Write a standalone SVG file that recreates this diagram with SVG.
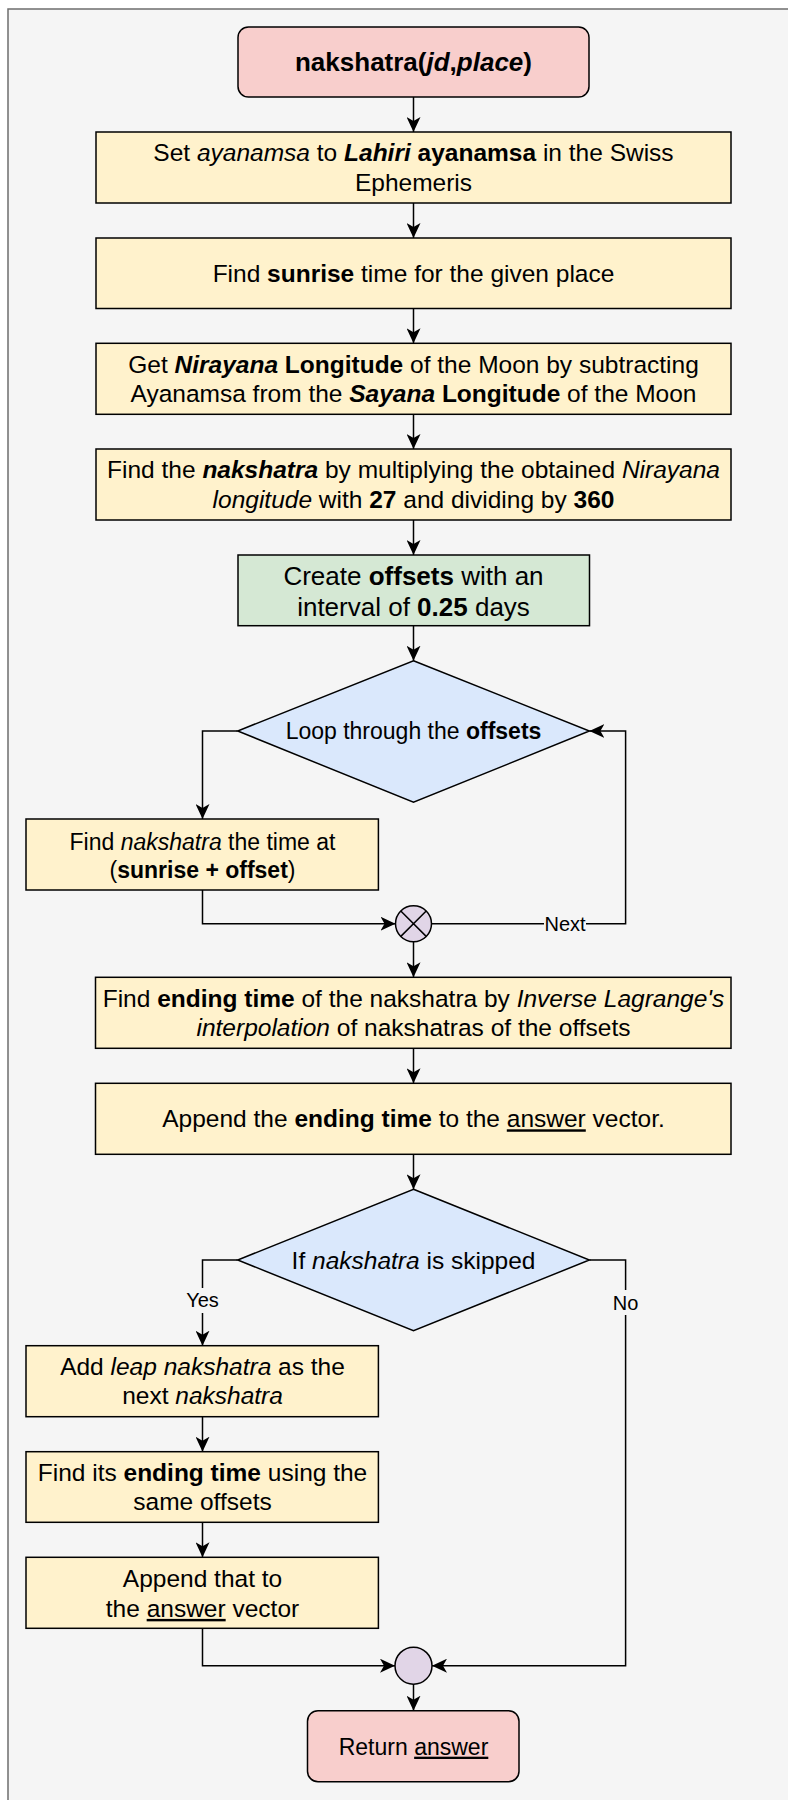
<svg xmlns="http://www.w3.org/2000/svg" width="788" height="1800" viewBox="0 0 788 1800">
<style>
text{font-family:"Liberation Sans",Arial,Helvetica,sans-serif;fill:#000;text-anchor:middle}
.b{font-weight:bold}
.i{font-style:italic}
.u{text-decoration:underline}
.f245{font-size:24.5px}
.f23{font-size:23px}
.f26{font-size:26px}
.lbl{font-size:20px}
.box{fill:#fff2cc;stroke:#000;stroke-width:1.5}
.term{fill:#f8cecc;stroke:#000;stroke-width:1.5}
.green{fill:#d5e8d4;stroke:#000;stroke-width:1.5}
.dec{fill:#dae8fc;stroke:#000;stroke-width:1.5}
.junc{fill:#e1d5e7;stroke:#000;stroke-width:1.5}
.edge{fill:none;stroke:#000;stroke-width:1.5}
.arr{marker-end:url(#ah)}
</style>
<defs>
<marker id="ah" markerUnits="userSpaceOnUse" viewBox="0 0 15 14" refX="15" refY="7" markerWidth="15" markerHeight="14" orient="auto">
<path d="M0,0 L15,7 L0,14 L4,7 Z" fill="#000"/>
</marker>
</defs>
<rect x="0" y="0" width="788" height="1800" fill="#ffffff"/>
<rect x="8" y="9" width="820" height="1820" fill="#f5f5f5" stroke="#6e6e6e" stroke-width="1.5"/>

<g id="connectors">
<path class="edge arr" d="M413.5,97 L413.5,132"/>
<path class="edge arr" d="M413.5,203 L413.5,238"/>
<path class="edge arr" d="M413.5,308.5 L413.5,343.3"/>
<path class="edge arr" d="M413.5,414.3 L413.5,449"/>
<path class="edge arr" d="M413.5,520 L413.5,555"/>
<path class="edge arr" d="M413.5,625.7 L413.5,660.7"/>
<path class="edge arr" d="M237.7,731 L202.5,731 L202.5,819"/>
<path class="edge arr" d="M202.5,890 L202.5,923.7 L395.5,923.7"/>
<path class="edge arr" d="M431.5,923.7 L625.6,923.7 L625.6,731 L589.4,731"/>
<path class="edge arr" d="M413.5,941.7 L413.5,977.3"/>
<path class="edge arr" d="M413.5,1048.3 L413.5,1083.3"/>
<path class="edge arr" d="M413.5,1154.3 L413.5,1189.3"/>
<path class="edge arr" d="M237.7,1260 L202.5,1260 L202.5,1345.7"/>
<path class="edge arr" d="M589.4,1260 L625.6,1260 L625.6,1665.7 L432,1665.7"/>
<path class="edge arr" d="M202.5,1416.7 L202.5,1451.7"/>
<path class="edge arr" d="M202.5,1522.3 L202.5,1557.3"/>
<path class="edge arr" d="M202.5,1628.3 L202.5,1665.7 L395,1665.7"/>
<path class="edge arr" d="M413.5,1684.2 L413.5,1710.7"/>
<rect x="544" y="912" width="42" height="24" fill="#f5f5f5"/>
<text class="lbl" x="565" y="930.8">Next</text>
<rect x="184" y="1288" width="37" height="25" fill="#f5f5f5"/>
<text class="lbl" x="202.5" y="1307.2">Yes</text>
<rect x="611" y="1290" width="30" height="25" fill="#f5f5f5"/>
<text class="lbl" x="625.6" y="1309.9">No</text>
</g>

<g id="start">
<rect class="term" x="238" y="27" width="351" height="70" rx="10.5" ry="10.5"/>
<text class="f26 b" x="413.5" y="71">nakshatra(<tspan class="i">jd</tspan>,<tspan class="i">place</tspan>)</text>
</g>

<g id="set-ayanamsa">
<rect class="box" x="96" y="132" width="635" height="71"/>
<text class="f245" x="413.5" y="161.3">Set <tspan class="i">ayanamsa</tspan> to <tspan class="b i">Lahiri</tspan> <tspan class="b">ayanamsa</tspan> in the Swiss</text>
<text class="f245" x="413.5" y="190.7">Ephemeris</text>
</g>

<g id="find-sunrise">
<rect class="box" x="96" y="238" width="635" height="70.5"/>
<text class="f245" x="413.5" y="281.8">Find <tspan class="b">sunrise</tspan> time for the given place</text>
</g>

<g id="nirayana">
<rect class="box" x="96" y="343.3" width="635" height="71"/>
<text class="f245" x="413.5" y="372.6">Get <tspan class="b i">Nirayana</tspan> <tspan class="b">Longitude</tspan> of the Moon by subtracting</text>
<text class="f245" x="413.5" y="402">Ayanamsa from the <tspan class="b i">Sayana</tspan> <tspan class="b">Longitude</tspan> of the Moon</text>
</g>

<g id="find-nakshatra">
<rect class="box" x="96" y="449" width="635" height="71"/>
<text class="f245" x="413.5" y="478.3">Find the <tspan class="b i">nakshatra</tspan> by multiplying the obtained <tspan class="i">Nirayana</tspan></text>
<text class="f245" x="413.5" y="507.7"><tspan class="i">longitude</tspan> with <tspan class="b">27</tspan> and dividing by <tspan class="b">360</tspan></text>
</g>

<g id="offsets">
<rect class="green" x="238" y="555" width="351.5" height="70.7"/>
<text class="f26" x="413.5" y="584.8">Create <tspan class="b">offsets</tspan> with an</text>
<text class="f26" x="413.5" y="615.5">interval of <tspan class="b">0.25</tspan> days</text>
</g>

<g id="loop">
<polygon class="dec" points="413.5,660.7 589.4,731 413.5,802.3 237.7,731"/>
<text class="f23" x="413.5" y="739">Loop through the <tspan class="b">offsets</tspan></text>
</g>

<g id="time-at-offset">
<rect class="box" x="26" y="819" width="352.4" height="71"/>
<text class="f23" x="202.5" y="849.5">Find <tspan class="i">nakshatra</tspan> the time at</text>
<text class="f23" x="202.5" y="877.8">(<tspan class="b">sunrise + offset</tspan>)</text>
</g>

<g id="loop-junction">
<circle class="junc" cx="413.5" cy="923.7" r="18"/>
<path class="edge" d="M400.8,911 L426.2,936.4 M426.2,911 L400.8,936.4"/>
</g>

<g id="ending-time">
<rect class="box" x="95.5" y="977.3" width="635.5" height="71"/>
<text class="f245" x="413.5" y="1006.6">Find <tspan class="b">ending time</tspan> of the nakshatra by <tspan class="i">Inverse Lagrange's</tspan></text>
<text class="f245" x="413.5" y="1036"><tspan class="i">interpolation</tspan> of nakshatras of the offsets</text>
</g>

<g id="append-ending">
<rect class="box" x="95.5" y="1083.3" width="635.5" height="71"/>
<text class="f245" x="413.5" y="1127.3">Append the <tspan class="b">ending time</tspan> to the <tspan class="u">answer</tspan> vector.</text>
</g>

<g id="skipped">
<polygon class="dec" points="413.5,1189.3 589.4,1260 413.5,1330.7 237.7,1260"/>
<text class="f245" x="413.5" y="1268.5">If <tspan class="i">nakshatra</tspan> is skipped</text>
</g>

<g id="leap">
<rect class="box" x="26" y="1345.7" width="352.4" height="71"/>
<text class="f245" x="202.5" y="1375">Add <tspan class="i">leap nakshatra</tspan> as the</text>
<text class="f245" x="202.5" y="1404.4">next <tspan class="i">nakshatra</tspan></text>
</g>

<g id="leap-ending">
<rect class="box" x="26" y="1451.7" width="352.4" height="70.6"/>
<text class="f245" x="202.5" y="1481">Find its <tspan class="b">ending time</tspan> using the</text>
<text class="f245" x="202.5" y="1510.4">same offsets</text>
</g>

<g id="append-leap">
<rect class="box" x="26" y="1557.3" width="352.4" height="71"/>
<text class="f245" x="202.5" y="1587">Append that to</text>
<text class="f245" x="202.5" y="1616.9">the <tspan class="u">answer</tspan> vector</text>
</g>

<g id="end-junction">
<ellipse class="junc" cx="413.5" cy="1665.7" rx="18.5" ry="18.5"/>
</g>

<g id="return">
<rect class="term" x="307.5" y="1710.7" width="211.5" height="71" rx="10.5" ry="10.5"/>
<text class="f23" x="413.5" y="1754.7">Return <tspan class="u">answer</tspan></text>
</g>
</svg>
